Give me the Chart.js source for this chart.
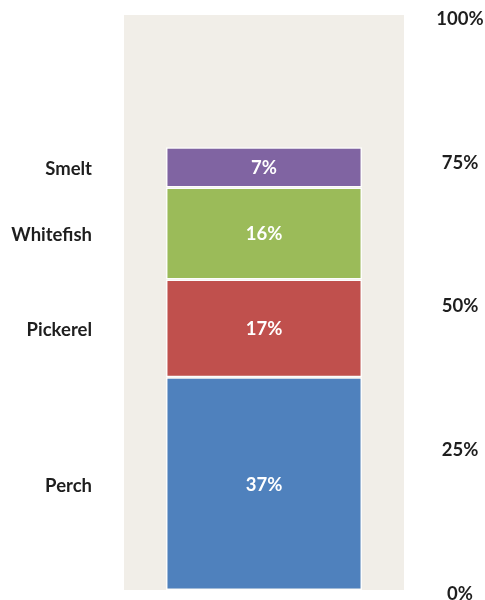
<!DOCTYPE html>
<html>
<head>
<meta charset="utf-8">
<script src="https://cdn.jsdelivr.net/npm/chart.js@4"></script>
<style>
  html, body { margin: 0; padding: 0; background: #fff; }
  #wrap { width: 485px; height: 600px; }
</style>
</head>
<body>
<div id="wrap"><canvas id="catchChart"></canvas></div>
<script>
const categories = ['Catch'];
const species = ['Perch', 'Pickerel', 'Whitefish', 'Smelt'];
const shares = [37, 17, 16, 7];
const colors = ['#4f81bd', '#c0504d', '#9bbb59', '#8064a2'];
const tickValues = [0, 25, 50, 75, 100];

const FONT = 'Lato, "Open Sans", sans-serif';
const TEXT = '#1e1e1e';

// plot background, species names, segment percentages and the right-hand scale labels
const segmentLabels = {
  id: 'segmentLabels',
  beforeDraw(chart) {
    const { ctx, chartArea: a } = chart;
    ctx.save();
    ctx.fillStyle = '#f1eee8';
    ctx.fillRect(a.left, a.top, a.right - a.left, a.bottom - a.top);
    ctx.restore();
  },
  afterDatasetsDraw(chart) {
    const { ctx } = chart;
    const yScale = chart.scales.y;
    ctx.save();
    ctx.textBaseline = 'middle';
    ctx.font = 'bold 18.5px ' + FONT;
    chart.data.datasets.forEach((ds, i) => {
      const bar = chart.getDatasetMeta(i).data[0];
      const y = (bar.y + bar.base) / 2;
      ctx.fillStyle = '#ffffff';
      ctx.textAlign = 'center';
      ctx.fillText(ds.data[0] + '%', bar.x, y + 1);
      ctx.fillStyle = TEXT;
      ctx.textAlign = 'right';
      ctx.fillText(ds.label, 92, y + 2);
    });
    ctx.fillStyle = TEXT;
    ctx.textAlign = 'center';
    tickValues.forEach(v => {
      ctx.fillText(v + '%', 460, yScale.getPixelForValue(v) + 4);
    });
    ctx.restore();
  }
};

new Chart(document.getElementById('catchChart'), {
  type: 'bar',
  data: {
    labels: categories,
    datasets: species.map((name, i) => ({
      label: name,
      data: [shares[i]],
      backgroundColor: colors[i],
      borderColor: 'rgba(255,255,255,0.85)',
      borderWidth: 1.5,
      borderSkipped: false,
      categoryPercentage: 1,
      barPercentage: 0.7
    }))
  },
  options: {
    responsive: true,
    maintainAspectRatio: false,
    animation: false,
    layout: { padding: { left: 124, top: 15, bottom: 10, right: 0 } },
    plugins: {
      legend: { display: false },
      tooltip: { enabled: false }
    },
    scales: {
      x: { stacked: true, display: false },
      y: {
        stacked: true,
        position: 'right',
        min: 0,
        max: 100,
        afterBuildTicks: axis => { axis.ticks = tickValues.map(v => ({ value: v })); },
        afterFit: axis => { axis.width = 81; },
        grid: { display: false },
        border: { display: false },
        ticks: { display: false }
      }
    }
  },
  plugins: [segmentLabels]
});
</script>
</body>
</html>
